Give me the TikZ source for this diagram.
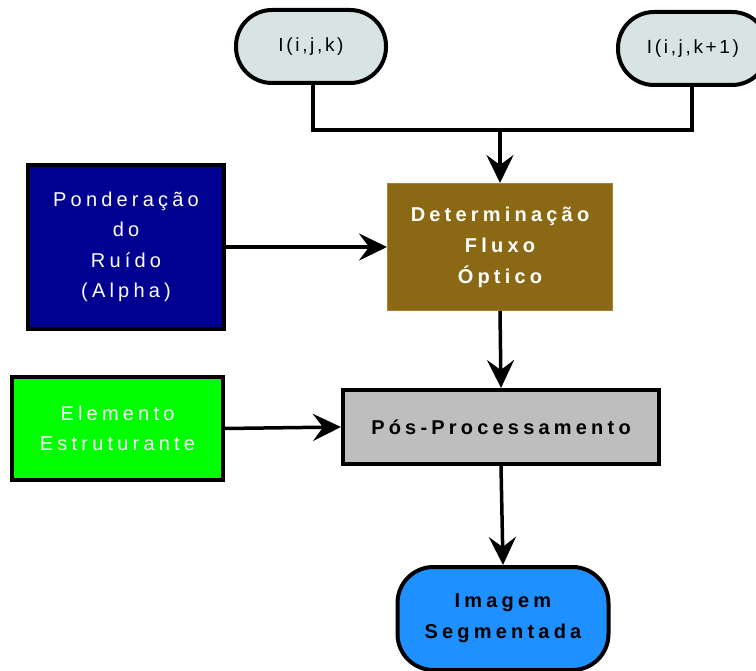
\documentclass[tikz,border=0pt]{standalone}
\usepackage{fontspec}
\setmainfont{Liberation Sans}
\newfontfamily\regfont[LetterSpace=21]{Liberation Sans}
\newfontfamily\inpfont[LetterSpace=14]{Liberation Sans}
\newfontfamily\boldfont[LetterSpace=21]{Liberation Sans Bold}
\usetikzlibrary{arrows.meta}
\definecolor{inputfill}{RGB}{216,228,228}
\definecolor{alphablue}{RGB}{0,0,145}
\definecolor{flowbrown}{RGB}{139,105,20}
\definecolor{flowedge}{RGB}{170,130,45}
\definecolor{elemgreen}{RGB}{0,255,0}
\definecolor{posgray}{RGB}{190,190,190}
\definecolor{outblue}{RGB}{30,144,255}
\begin{document}
\begin{tikzpicture}[x=1pt,y=-1pt,
    inbox/.style={draw,line width=4pt,fill=inputfill,rounded corners=36pt,
      minimum width=150pt,minimum height=73pt,inner sep=0pt,
      font=\inpfont\fontsize{19}{30}\selectfont},
    sidebox/.style={draw,line width=4pt,inner sep=0pt,align=center,text=white,
      font=\regfont\fontsize{20}{30.5}\selectfont},
    stepbox/.style={inner sep=0pt,align=center,
      font=\boldfont\fontsize{20}{31}\selectfont},
    flow/.style={line width=3.5pt,-{Stealth[length=28pt,width=27pt,inset=10pt]}}]
  \useasboundingbox (0,0) rectangle (756,671);
  % inputs
  \node[inbox] (ik) at (311,46.5) {I(i,j,k)};
  \node[inbox] (ikn) at (693,48.5) {I(i,j,k+1)};
  % main chain
  \node[stepbox,fill=flowbrown,draw=flowedge,line width=1pt,text=white,
    minimum width=225pt,minimum height=127pt] (fluxo) at (500,247)
    {Determinação\\Fluxo\\Óptico};
  \node[stepbox,draw,line width=4pt,fill=posgray,
    minimum width=316pt,minimum height=74pt] (pos) at (501,427)
    {Pós-Processamento};
  \node[stepbox,draw,line width=4pt,fill=outblue,rounded corners=36pt,
    minimum width=211pt,minimum height=103pt] (img) at (503,618.5)
    {Imagem\\Segmentada};
  % parameters
  \node[sidebox,fill=alphablue,minimum width=196pt,minimum height=164pt] (alpha) at (126,247)
    {Ponderação\\do\\Ruído\\(Alpha)};
  \node[sidebox,fill=elemgreen,minimum width=211pt,minimum height=103pt] (elem) at (117.5,428.5)
    {Elemento\\Estruturante};
  % connectors
  \coordinate (join) at (500,130);
  \draw[line width=3.5pt] (ik.south -| 313,0) |- (join) -| (ikn.south -| 692,0);
  \draw[flow] (join) -- (fluxo.north);
  \draw[flow] (alpha.east) -- (fluxo.west);
  \draw[flow] (fluxo.south) -- (pos.north);
  \draw[flow] (elem.east) -- (pos.west);
  \draw[flow] (pos.south) -- (img.north);
\end{tikzpicture}
\end{document}
